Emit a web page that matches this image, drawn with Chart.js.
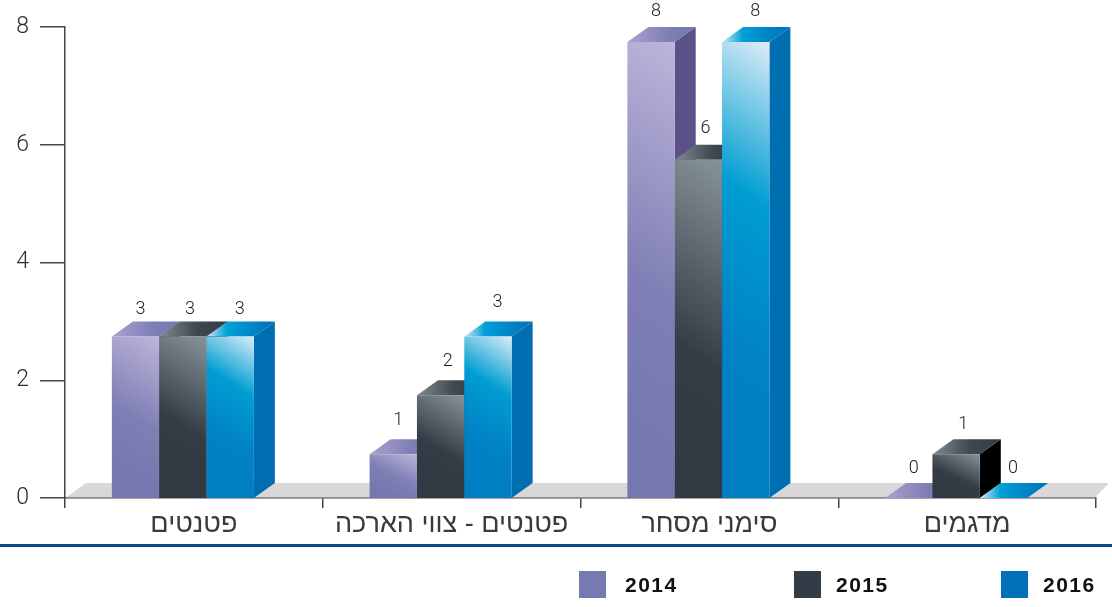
<!DOCTYPE html>
<html lang="he">
<head>
<meta charset="utf-8">
<style>html,body{margin:0;padding:0;background:#fff}canvas{display:block}</style>
<script src="https://cdn.jsdelivr.net/npm/chart.js@4"></script>
</head>
<body>
<canvas id="c" width="1112" height="607"></canvas>
<script>
const categories = ['פטנטים', 'פטנטים - צווי הארכה', 'סימני מסחר', 'מדגמים'];
const years = ['2014', '2015', '2016'];
const values2014 = [3, 1, 8, 0];
const values2015 = [3, 2, 6, 1];
const values2016 = [3, 3, 8, 0];
const yTicks = [0, 2, 4, 6, 8];

const DEPTH_X = 21, DEPTH_Y = 15, SHIFT = 11, CAT_PCT = 0.551;
const labelLift = [12, 19, 16, 15];
const labelNudge = [5, 7, 9.5];
const legendBoxX = [579, 794, 1001];
const legendTextX = [625, 836, 1043];
const skins = [
  {box:'#7779b1', side:'#5b5088',
   front:[[0,'#bdb5da'],[0.6,'#7f7fb5'],[1,'#7577ae']],
   top:[[0,'#aaa2cd'],[0.6,'#7f7fb6'],[1,'#7376ae']]},
  {box:'#333c46', side:'#000000',
   front:[[0,'#87939a'],[0.65,'#353c45'],[1,'#323942']],
   top:[[0,'#7f8c90'],[0.55,'#3f474f'],[1,'#333a43']]},
  {box:'#0070b8', side:'#006fb1',
   front:[[0,'#dcedf7'],[0.38,'#009dd2'],[0.75,'#0082c5'],[1,'#007fc2']],
   top:[[0,'#d2e8f4'],[0.3,'#00a0d8'],[0.7,'#0082c5'],[1,'#0072b6']]}
];

function stops(g, list){ list.forEach(s => g.addColorStop(s[0], s[1])); return g; }
function geom(chart, ds, i, v){
  const xs = chart.scales.x, ys = chart.scales.y;
  const catW = xs.width / categories.length;
  const w = catW * CAT_PCT / years.length;
  const cx = xs.getPixelForValue(i) - SHIFT + (ds - 1) * w;
  const base = ys.getPixelForValue(0);
  const back = Math.min(ys.getPixelForValue(v), base - DEPTH_Y);
  return {w, cx, l: cx - w / 2, r: cx + w / 2, base, back, front: back + DEPTH_Y};
}
function frontFill(ctx){
  const chart = ctx.chart;
  if (!chart.chartArea || ctx.dataIndex === undefined) return skins[ctx.datasetIndex].box;
  const g = geom(chart, ctx.datasetIndex, ctx.dataIndex, ctx.raw);
  const h = Math.max(g.base - g.front, 1);
  const d = Math.max(h, g.w) * 0.5;
  const grad = chart.ctx.createLinearGradient(g.r, g.front, g.r - d * 0.9, g.front + d * 1.25 + g.w * 0.3);
  return stops(grad, skins[ctx.datasetIndex].front);
}

const bar3d = {
  id: 'bar3d',
  afterDatasetsUpdate(chart){
    chart.data.datasets.forEach((d, ds) => {
      chart.getDatasetMeta(ds).data.forEach((el, i) => {
        const g = geom(chart, ds, i, d.data[i]);
        el.x = g.cx; el.y = g.front; el.base = g.base; el.width = g.w;
      });
    });
  },
  beforeDatasetsDraw(chart){
    const c = chart.ctx, a = chart.chartArea;
    c.save();
    c.fillStyle = '#d9d7d8';
    c.beginPath();
    c.moveTo(a.left + 1, a.bottom - 0.5);
    c.lineTo(a.left + 21, a.bottom - DEPTH_Y);
    c.lineTo(a.right + 13, a.bottom - DEPTH_Y);
    c.lineTo(a.right - 1, a.bottom - 0.5);
    c.closePath();
    c.fill();
    c.restore();
  },
  beforeDatasetDraw(chart, args){
    const c = chart.ctx, ds = args.index, skin = skins[ds];
    const values = chart.data.datasets[ds].data;
    c.save();
    values.forEach((v, i) => {
      const g = geom(chart, ds, i, v);
      if (g.base - g.front > 0.5) {
        c.fillStyle = skin.side;
        c.beginPath();
        c.moveTo(g.r, g.front);
        c.lineTo(g.r + DEPTH_X, g.back);
        c.lineTo(g.r + DEPTH_X, g.base - DEPTH_Y);
        c.lineTo(g.r, g.base);
        c.closePath();
        c.fill();
      }
      c.fillStyle = stops(c.createLinearGradient(g.l, 0, g.r + DEPTH_X, 0), skin.top);
      c.beginPath();
      c.moveTo(g.l, g.front);
      c.lineTo(g.l + DEPTH_X, g.back);
      c.lineTo(g.r + DEPTH_X, g.back);
      c.lineTo(g.r, g.front);
      c.closePath();
      c.fill();
    });
    c.restore();
  },
  afterDraw(chart){
    const c = chart.ctx;
    c.save();
    c.font = '300 18px Roboto';
    c.fillStyle = '#1c1c1c';
    c.textAlign = 'center';
    c.textBaseline = 'middle';
    chart.data.datasets.forEach((d, ds) => {
      d.data.forEach((v, i) => {
        const g = geom(chart, ds, i, v);
        c.fillText(String(v), g.cx + labelNudge[ds], g.back - labelLift[i]);
      });
    });
    c.fillStyle = '#0c4a84';
    c.fillRect(0, 544, 1112, 3);
    c.textAlign = 'left';
    c.font = 'bold 21px "Liberation Sans"';
    if ('letterSpacing' in c) c.letterSpacing = '1.5px';
    years.forEach((y, k) => {
      c.fillStyle = skins[k].box;
      c.fillRect(legendBoxX[k], 571, 27, 27);
      c.fillStyle = '#111';
      c.fillText(y, legendTextX[k], 586);
    });
    c.restore();
  }
};

const axisColor = '#444';
new Chart(document.getElementById('c'), {
  type: 'bar',
  plugins: [bar3d],
  data: {
    labels: categories,
    datasets: [
      {label: years[0], data: values2014, order: 3, backgroundColor: frontFill},
      {label: years[1], data: values2015, order: 2, backgroundColor: frontFill},
      {label: years[2], data: values2016, order: 1, backgroundColor: frontFill}
    ]
  },
  options: {
    responsive: false,
    animation: false,
    events: [],
    layout: {padding: {left: 0, top: 27, right: 16, bottom: 0}},
    datasets: {bar: {barPercentage: 1, categoryPercentage: CAT_PCT, borderWidth: 0, clip: false}},
    plugins: {legend: {display: false}, tooltip: {enabled: false}},
    scales: {
      x: {
        afterFit(s){ s.height = 109; },
        grid: {drawOnChartArea: false, tickLength: 10, color: axisColor, lineWidth: 1.5},
        border: {color: axisColor, width: 1.5},
        ticks: {autoSkip: false, maxRotation: 0, padding: 0, color: '#3a3a3a',
                font: {family: '"Liberation Sans"', size: 27}}
      },
      y: {
        min: 0, max: 8,
        afterFit(s){ s.width = 65; },
        afterBuildTicks(s){ s.ticks = yTicks.map(value => ({value})); },
        grid: {drawOnChartArea: false, tickLength: 25, color: axisColor, lineWidth: 1.5},
        border: {color: axisColor, width: 1.5},
        ticks: {padding: 11, color: '#2c2c2c', font: {family: 'Roboto', size: 23, weight: '300'}}
      }
    }
  }
});
</script>
</body>
</html>
